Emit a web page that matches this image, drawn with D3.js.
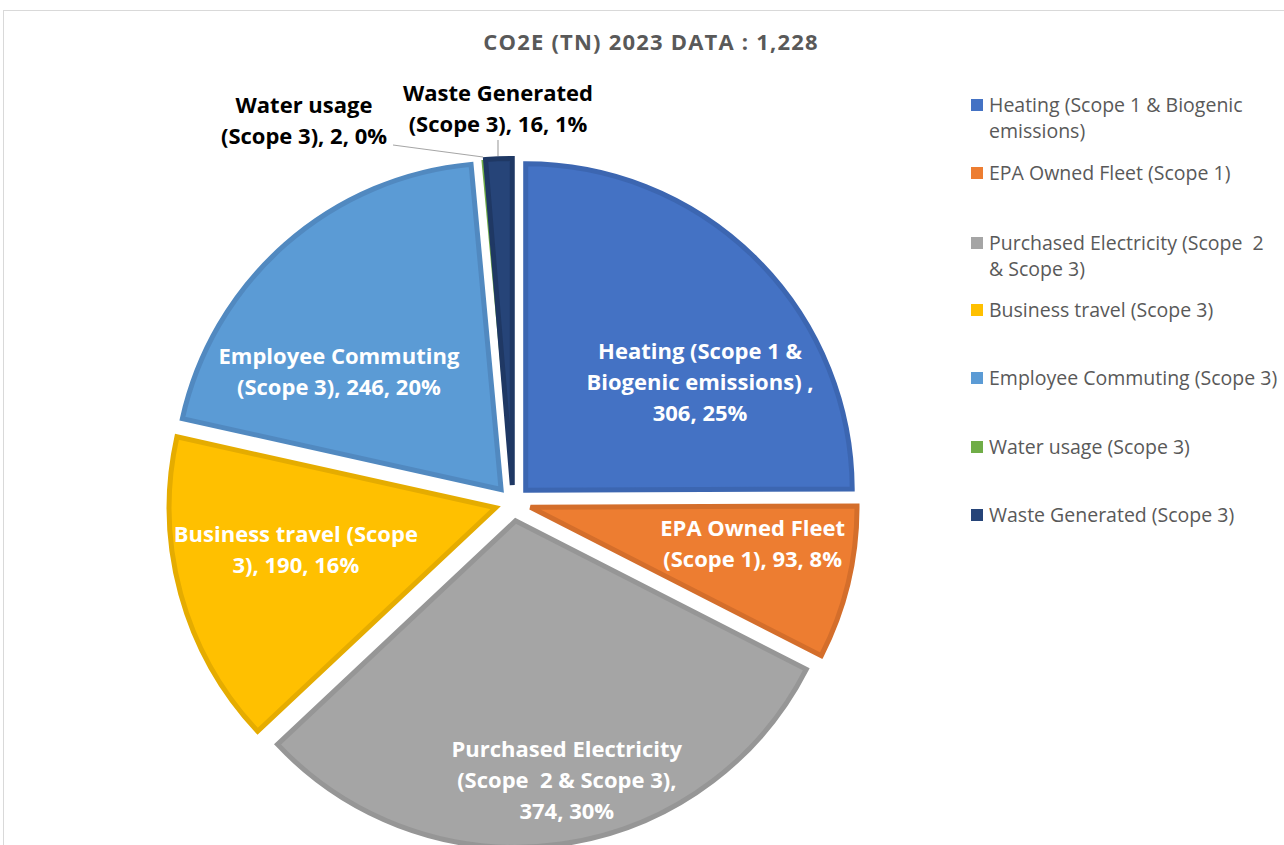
<!DOCTYPE html>
<head>
  <meta charset="utf-8">
  <script src="https://d3js.org/d3.v7.min.js"></script>
  <style>
    body { margin:0; background:#fff; }
    svg text { font-family: "Open Sans", Lato, sans-serif; white-space: pre; }
  </style>
</head>
<body>
<script>
// data
var categories = ["Heating (Scope 1 & Biogenic emissions)", "EPA Owned Fleet (Scope 1)",
  "Purchased Electricity (Scope  2 & Scope 3)", "Business travel (Scope 3)",
  "Employee Commuting (Scope 3)", "Water usage (Scope 3)", "Waste Generated (Scope 3)"];
var values = [306, 93, 374, 190, 246, 2, 16];
var percents = ["25%", "8%", "30%", "16%", "20%", "0%", "1%"];
var legendLines = [["Heating (Scope 1 & Biogenic", "emissions)"], ["EPA Owned Fleet (Scope 1)"],
  ["Purchased Electricity (Scope  2", "& Scope 3)"], ["Business travel (Scope 3)"],
  ["Employee Commuting (Scope 3)"], ["Water usage (Scope 3)"], ["Waste Generated (Scope 3)"]];
var labelLines = [
  ["Heating (Scope 1 &", "Biogenic emissions) ,", "306, 25%"],
  ["EPA Owned Fleet", "(Scope 1), 93, 8%"],
  ["Purchased Electricity", "(Scope  2 & Scope 3),", "374, 30%"],
  ["Business travel (Scope", "3), 190, 16%"],
  ["Employee Commuting", "(Scope 3), 246, 20%"],
  ["Water usage", "(Scope 3), 2, 0%"],
  ["Waste Generated", "(Scope 3), 16, 1%"]];
var colors = ["#4472C4", "#ED7D31", "#A5A5A5", "#FFC000", "#5B9BD5", "#70AD47", "#264478"];
var strokes = ["#3C66B1", "#D46E2B", "#969696", "#E5AC00", "#5189C0", "#629A3F", "#1F3864"];

// label placement, polar around pie centre: [angle deg, distance px]
var labelPolar = [[57, 223], [99.5, 243], [169, 282], [258, 222], [307, 218]];
var outsideLabels = [[304, 120], [498, 108]];
var leaders = [[[393, 145], [483, 157]], [[498, 140], [498, 156]]];

var width = 1284, height = 845;
var cx = 513, cy = 503, radius = 329, explode = 18;

var svg = d3.select("body").append("svg")
  .attr("width", width).attr("height", height);

svg.append("rect").attr("x", 3.5).attr("y", 10.5).attr("width", 1400).attr("height", 1000)
  .attr("fill", "none").attr("stroke", "#D9D9D9");

svg.append("text").attr("x", 651).attr("y", 50).attr("text-anchor", "middle")
  .attr("font-size", 22).attr("font-weight", "bold").attr("fill", "#595959")
  .attr("letter-spacing", 1.2)
  .text("CO2E (TN) 2023 DATA : 1,228");

var pie = d3.pie().sort(null).value(function(d) { return d; });
var arcs = pie(values);
var arc = d3.arc().innerRadius(0).outerRadius(radius - 2.5);

var g = svg.append("g").attr("transform", "translate(" + cx + "," + cy + ")");

g.selectAll("path").data(arcs).enter().append("path")
  .attr("transform", function(d) {
    var p = d3.pointRadial((d.startAngle + d.endAngle) / 2, explode);
    return "translate(" + p[0] + "," + p[1] + ")";
  })
  .attr("d", arc)
  .attr("fill", function(d, i) { return colors[i]; })
  .attr("stroke", function(d, i) { return strokes[i]; })
  .attr("stroke-width", function(d) { return d.value < 5 ? 0 : 5; })
  .attr("stroke-linejoin", "miter");

// inside labels
labelPolar.forEach(function(lp, i) {
  var p = d3.pointRadial(lp[0] * Math.PI / 180, lp[1]);
  var lines = labelLines[i];
  var t = g.append("text").attr("text-anchor", "middle")
    .attr("font-size", 22).attr("font-weight", "bold").attr("fill", "#fff");
  lines.forEach(function(l, k) {
    t.append("tspan").attr("x", p[0])
      .attr("y", p[1] + (k - (lines.length - 1) / 2) * 31 + 8).text(l);
  });
});

// outside labels
leaders.forEach(function(ld) {
  svg.append("line").attr("x1", ld[0][0]).attr("y1", ld[0][1])
    .attr("x2", ld[1][0]).attr("y2", ld[1][1])
    .attr("stroke", "#A6A6A6").attr("stroke-width", 1.2);
});
outsideLabels.forEach(function(p, j) {
  var lines = labelLines[5 + j];
  var t = svg.append("text").attr("text-anchor", "middle")
    .attr("font-size", 22).attr("font-weight", "bold").attr("fill", "#000");
  lines.forEach(function(l, k) {
    t.append("tspan").attr("x", p[0]).attr("y", p[1] + (k - 0.5) * 31 + 8).text(l);
  });
});

// legend
var legendY = [105, 173, 243, 310, 378, 447, 515];
var leg = svg.append("g");
legendLines.forEach(function(lines, i) {
  leg.append("rect").attr("x", 971).attr("y", legendY[i] - 6).attr("width", 12).attr("height", 12)
    .attr("fill", colors[i]);
  var t = leg.append("text").attr("font-size", 19.5).attr("fill", "#595959");
  lines.forEach(function(l, k) {
    t.append("tspan").attr("x", 989).attr("y", legendY[i] + 7 + k * 26).text(l);
  });
});
</script>
</body>
